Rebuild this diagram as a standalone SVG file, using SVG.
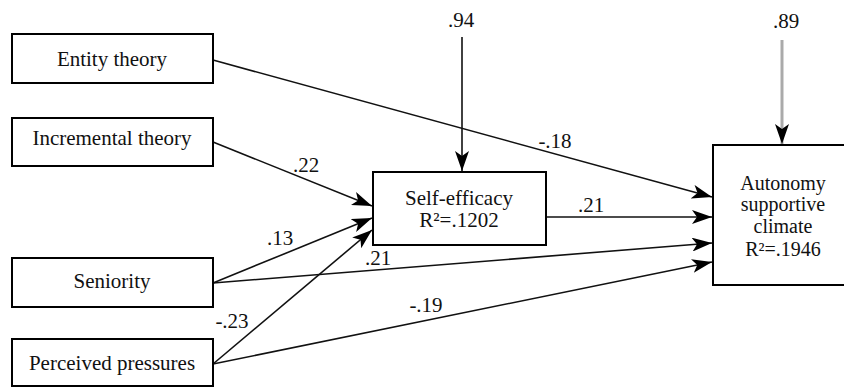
<svg xmlns="http://www.w3.org/2000/svg" width="844" height="388" viewBox="0 0 844 388">
<style>
.box{fill:#fff;stroke:#000;stroke-width:2}
.t{font-family:'Liberation Serif','Tinos','Times New Roman','DejaVu Serif',serif;font-size:21px;fill:#111;text-anchor:middle}
.s{font-size:20px}
.c{stroke:#111;stroke-width:1.6;fill:none;marker-end:url(#ah)}
.g{stroke:#aaa;stroke-width:3;fill:none;marker-end:url(#ah)}
</style>
<defs>
<marker id="ah" markerUnits="userSpaceOnUse" markerWidth="22" markerHeight="14" refX="20" refY="7" orient="auto">
<path d="M0,0 L20,7 L0,14 L5,7 z" fill="#000"/>
</marker>
</defs>
<rect width="844" height="388" fill="#fff"/>
<g id="connectors">
<line class="c" x1="213" y1="60" x2="712" y2="197"/>
<line class="c" x1="213" y1="142" x2="372" y2="206"/>
<line class="c" x1="213" y1="283" x2="372" y2="218"/>
<line class="c" x1="213" y1="364" x2="372" y2="230"/>
<line class="c" x1="546" y1="217" x2="712" y2="217"/>
<line class="c" x1="213" y1="283" x2="712" y2="243"/>
<line class="c" x1="213" y1="364" x2="712" y2="262"/>
<line class="c" x1="462" y1="37" x2="462" y2="171"/>
<line class="g" x1="782" y1="40" x2="782" y2="144"/>
<text class="t" x="555" y="148">-.18</text>
<text class="t" x="306" y="172">.22</text>
<text class="t" x="591" y="212">.21</text>
<text class="t" x="280" y="245">.13</text>
<text class="t" x="378" y="265">.21</text>
<text class="t" x="232" y="328">-.23</text>
<text class="t" x="426" y="312">-.19</text>
<text class="t" x="461" y="27">.94</text>
<text class="t" x="786" y="28">.89</text>
</g>
<g id="entity">
<rect class="box" x="12" y="34" width="201" height="49"/>
<text class="t" x="112" y="66">Entity theory</text>
</g>
<g id="incremental">
<rect class="box" x="12" y="118" width="201" height="48"/>
<text class="t" x="112" y="145">Incremental theory</text>
</g>
<g id="seniority">
<rect class="box" x="12" y="258" width="201" height="49"/>
<text class="t" x="112" y="288">Seniority</text>
</g>
<g id="pressures">
<rect class="box" x="12" y="339" width="201" height="47"/>
<text class="t" x="112" y="370">Perceived pressures</text>
</g>
<g id="selfefficacy">
<rect class="box" x="373" y="172" width="173" height="73"/>
<text class="t" x="459" y="205">Self-efficacy</text>
<text class="t" x="459" y="227">R²=.1202</text>
</g>
<g id="autonomy">
<rect class="box" x="713" y="145" width="145" height="140"/>
<text class="t s" x="783" y="190">Autonomy</text>
<text class="t s" x="783" y="211">supportive</text>
<text class="t s" x="783" y="233">climate</text>
<text class="t s" x="783" y="256">R²=.1946</text>
</g>
</svg>
